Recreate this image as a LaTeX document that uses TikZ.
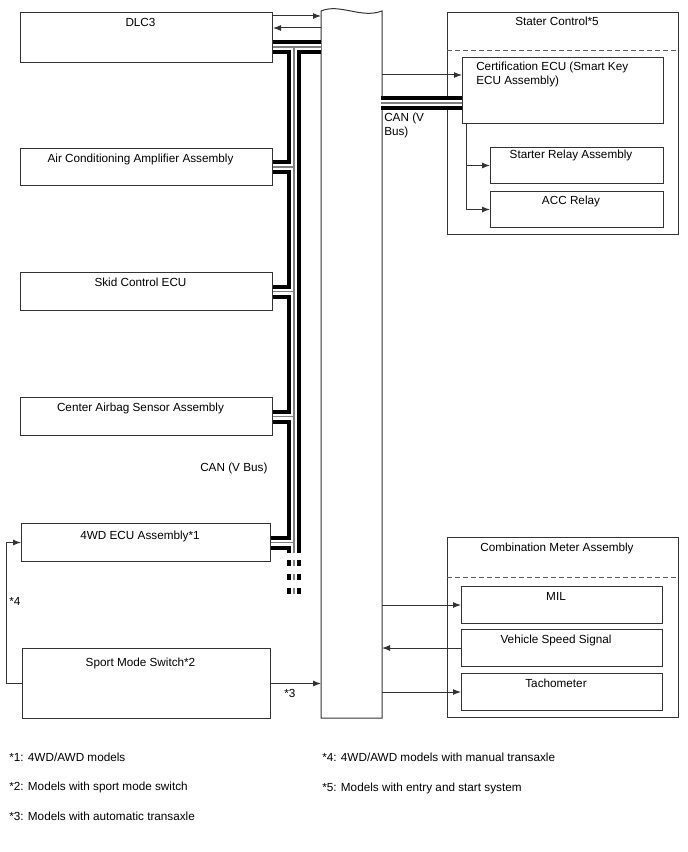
\documentclass[tikz,border=0pt]{standalone}
\usepackage{fontspec}
\setmainfont{Liberation Sans}
\usetikzlibrary{arrows.meta,positioning}
\definecolor{boxline}{HTML}{333333}
\definecolor{wiregray}{HTML}{808080}
\tikzset{
  ecu/.style 2 args={draw=boxline, line width=0.75pt, minimum width=#1*0.75pt,
                     minimum height=#2*0.75pt, anchor=north west, inner sep=0pt},
  title/.style={font=\fontsize{8.8}{10.5}\selectfont, inner sep=0pt, xshift=-4.5pt},
  note/.style={font=\fontsize{8.8}{10.5}\selectfont, inner sep=0pt, anchor=base west},
  sig/.style={draw=boxline, line width=0.75pt, -{Latex[length=6pt, width=4.5pt]}},
  busouter/.style={line width=10.5pt, draw=black},
  businner/.style={line width=4.5pt, draw=white},
  buscore/.style={line width=0.9pt, draw=wiregray},
  sepline/.style={draw=boxline!80, line width=0.6pt, dash pattern=on 3.5pt off 2.5pt},
}

\begin{document}
\begin{tikzpicture}[x=0.75pt, y=-0.75pt]
  \useasboundingbox (0,0) rectangle (688,852);

  % left column
  \node[ecu={252}{50}] (dlc) at (20,12) {};
  \node[ecu={252}{37}] (ac) at (20,148) {};
  \node[ecu={252}{38}] (skid) at (20,272) {};
  \node[ecu={252}{38}] (airbag) at (20,397) {};
  \node[ecu={249}{38}] (fwd) at (21,523) {};
  \node[ecu={248}{70}] (sport) at (22,648) {};
  \node[title, below=4.3pt of dlc.north] (dlcT) {DLC3};
  \node[title, below=4.3pt of ac.north] (acT) {Air Conditioning Amplifier Assembly};
  \node[title, below=4.3pt of skid.north] (skidT) {Skid Control ECU};
  \node[title, below=4.3pt of airbag.north] (airbagT) {Center Airbag Sensor Assembly};
  \node[title, below=5.6pt of fwd.north] (fwdT) {4WD ECU Assembly*1};
  \node[title, below=7.1pt of sport.north] (sportT) {Sport Mode Switch*2};

  % engine ECU (wavy top)
  \node[ecu={60}{706}, draw=none] (ecm) at (321,11) {};
  \draw[boxline, line width=0.75pt] (ecm.north west) .. controls +(19,-8) and +(-21,8) .. (ecm.north east)
    -- (ecm.south east) -- (ecm.south west) -- cycle;

  % starter control group
  \node[ecu={231}{222}] (stater) at (447,12) {};
  \node[ecu={201}{66}] (cert) at (462,57) {};
  \node[ecu={173}{36}] (starter) at (490,147) {};
  \node[ecu={173}{36}] (acc) at (490,191) {};
  \draw[sepline] ([yshift=-28.5pt]stater.north west) -- ([yshift=-28.5pt]stater.north east);
  \node[title, below=3.6pt of stater.north] (staterT) {Stater Control*5};
  \node[note, anchor=north west, align=left] (certT) at (476,61.5) {Certification ECU (Smart Key\\ECU Assembly)};
  \node[title, below=1.9pt of starter.north] (starterT) {Starter Relay Assembly};
  \node[title, below=3.8pt of acc.north] (accT) {ACC Relay};

  % combination meter group
  \node[ecu={231}{180}] (combo) at (447,537) {};
  \node[ecu={201}{37}] (mil) at (461,586) {};
  \node[ecu={201}{37}] (vss) at (461,629) {};
  \node[ecu={201}{37}] (tach) at (461,673) {};
  \draw[sepline] ([yshift=-30pt]combo.north west) -- ([yshift=-30pt]combo.north east);
  \node[title, below=4.3pt of combo.north] (comboT) {Combination Meter Assembly};
  \node[title, below=4.3pt of mil.north] (milT) {MIL};
  \node[title, below=4.3pt of vss.north] (vssT) {Vehicle Speed Signal};
  \node[title, below=4.3pt of tach.north] (tachT) {Tachometer};

  % CAN bus
  \coordinate (busTop) at (294,47);
  \coordinate (busEnd) at (294,553);
  \coordinate (dashTop) at (294,560);
  \coordinate (dashEnd) at (294,594);
  \coordinate (canR) at (381,103);
  \foreach \layer in {busouter,businner,buscore}
    \draw[\layer] (busTop -| dlc.east) -- (busTop -| ecm.west)
      (busTop) -- (busEnd)
      (ac.east) -- (ac.east -| busTop)
      (skid.east) -- (skid.east -| busTop)
      (airbag.east) -- (airbag.east -| busTop)
      (fwd.east) -- (fwd.east -| busTop)
      (canR) -- (canR -| cert.west);
  \foreach \layer in {busouter,businner,buscore}
    \draw[\layer, dash pattern=on 4.5pt off 6pt] (dashTop) -- (dashEnd);
  \node[note] (canLT) at (200,471) {CAN (V Bus)};
  \node[note, anchor=north west, align=left] (canRT) at (384,112.5) {CAN (V\\Bus)};

  % signal lines
  \coordinate (dlcOut) at ([yshift=-3pt]dlc.north east);
  \coordinate (dlcIn) at ([yshift=-12pt]dlc.north east);
  \coordinate (certIn) at ([yshift=-13.5pt]cert.north west);
  \coordinate (certDrop) at ([xshift=3pt]cert.south west);
  \draw[sig] (dlcOut) -- (dlcOut -| ecm.west);
  \draw[sig] (dlcIn -| ecm.west) -- (dlcIn);
  \draw[sig] (certIn -| ecm.east) -- (certIn);
  \draw[sig] (certDrop) |- (starter.west);
  \draw[sig] (certDrop) |- (acc.west);
  \draw[sig] (mil.west -| ecm.east) -- (mil.west);
  \draw[sig] (vss.west) -- (vss.west -| ecm.east);
  \draw[sig] (tach.west -| ecm.east) -- (tach.west);
  \draw[sig] (sport.east) -- (sport.east -| ecm.west);
  \draw[sig] (sport.west) -- ++(-16,0) |- (fwd.west);
  \node[note] (n3) at (284,697) {*3};
  \node[note] (n4) at (9,605) {*4};

  % footnotes
  \node[note] (f1) at (9,761) {*1: 4WD/AWD models};
  \node[note] (f2) at (9,790) {*2: Models with sport mode switch};
  \node[note] (f3) at (9,820) {*3: Models with automatic transaxle};
  \node[note] (f4) at (322,761) {*4: 4WD/AWD models with manual transaxle};
  \node[note] (f5) at (322,791) {*5: Models with entry and start system};
\end{tikzpicture}
\end{document}
